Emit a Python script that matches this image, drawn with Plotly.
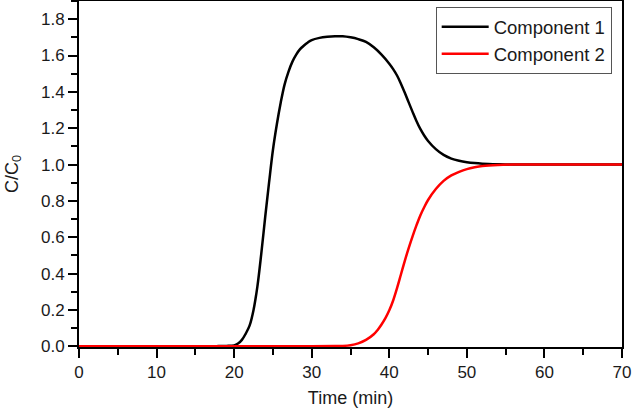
import plotly.graph_objects as go

# Component 1 breakthrough curve
t1 = [0, 10, 17, 18, 19, 20, 20.5, 21, 21.5, 22, 22.5, 23, 23.5, 24, 24.5, 25, 25.5, 26,
      26.5, 27, 27.5, 28, 28.5, 29, 29.5, 30, 31, 32, 33, 34, 35, 36, 37, 38, 39, 40,
      40.5, 41, 41.5, 42, 42.5, 43, 43.5, 44, 44.5, 45, 46, 47, 48, 49, 50, 51, 52, 54,
      56, 60, 70]
c1 = [0, 0, 0, 0.001, 0.002, 0.005, 0.015, 0.035, 0.07, 0.115, 0.20, 0.33, 0.51, 0.71,
      0.90, 1.08, 1.22, 1.34, 1.44, 1.51, 1.565, 1.605, 1.635, 1.655, 1.672, 1.685,
      1.697, 1.703, 1.706, 1.706, 1.70, 1.69, 1.675, 1.645, 1.605, 1.555, 1.525, 1.49,
      1.445, 1.395, 1.342, 1.29, 1.24, 1.196, 1.16, 1.13, 1.085, 1.053, 1.033, 1.021,
      1.013, 1.008, 1.005, 1.002, 1.0, 1.0, 1.0]

# Component 2 breakthrough curve
t2 = [0, 30, 33, 34, 35, 36, 37, 38, 38.5, 39, 39.5, 40, 40.5, 41, 41.5, 42, 42.5, 43, 43.5,
      44, 44.5, 45, 46, 47, 48, 49, 50, 51, 52, 54, 56, 60, 70]
c2 = [0, 0, 0.001, 0.002, 0.006, 0.016, 0.035, 0.066, 0.09, 0.12, 0.155, 0.198, 0.252,
      0.32, 0.395, 0.47, 0.54, 0.605, 0.665, 0.72, 0.765, 0.805, 0.865, 0.91, 0.94,
      0.96, 0.975, 0.985, 0.992, 0.998, 1.0, 1.0, 1.0]

names = ["Component 1", "Component 2"]
colors = ["#000000", "#ff0000"]

x_ticks = [0, 10, 20, 30, 40, 50, 60, 70]
y_ticks = [0.0, 0.2, 0.4, 0.6, 0.8, 1.0, 1.2, 1.4, 1.6, 1.8]

fig = go.Figure()
for t, c, n, col in [(t1, c1, names[0], colors[0]), (t2, c2, names[1], colors[1])]:
    fig.add_trace(go.Scatter(x=t, y=c, mode="lines", name=n,
                             line=dict(color=col, width=2.5, shape="spline", smoothing=1.0)))

FAM = "Liberation Sans, Arial, sans-serif"
tick_font = dict(family=FAM, size=17, color="#1a1a1a")
title_font = dict(family=FAM, size=18, color="#1a1a1a")

axis_common = dict(
    showline=True, linecolor="black", linewidth=2, mirror=True,
    ticks="outside", ticklen=9, tickwidth=1.5, tickcolor="black",
    showgrid=False, zeroline=False, layer="below traces",
    tickfont=tick_font, automargin=False,
)

fig.update_layout(
    width=633, height=410,
    margin=dict(l=79, r=11, t=1, b=63),
    paper_bgcolor="white", plot_bgcolor="white",
    font=tick_font,
    showlegend=True,
    legend=dict(x=0.981, y=0.982, xanchor="right", yanchor="top",
                bgcolor="white", bordercolor="#555555", borderwidth=1,
                font=dict(family=FAM, size=18.5, color="#1a1a1a"),
                itemwidth=47, tracegroupgap=0),
    xaxis=dict(range=[0, 70], tickvals=x_ticks, ticktext=[str(v) for v in x_ticks],
               minor=dict(ticks="outside", ticklen=6, tickwidth=1.5, tickcolor="black", dtick=5, tick0=0),
               title=dict(text="Time (min)", font=title_font, standoff=10),
               **axis_common),
    yaxis=dict(range=[-0.004, 1.9], tickvals=y_ticks, ticktext=[f"{v:.1f}" for v in y_ticks],
               minor=dict(ticks="outside", ticklen=6, tickwidth=1.5, tickcolor="black", dtick=0.1, tick0=0),
               title=dict(text="C/C<sub>0</sub>", font=title_font, standoff=18),
               **axis_common),
)

fig.write_html("out.html", config={"displayModeBar": False},
               post_script="document.body.style.margin='0';")
